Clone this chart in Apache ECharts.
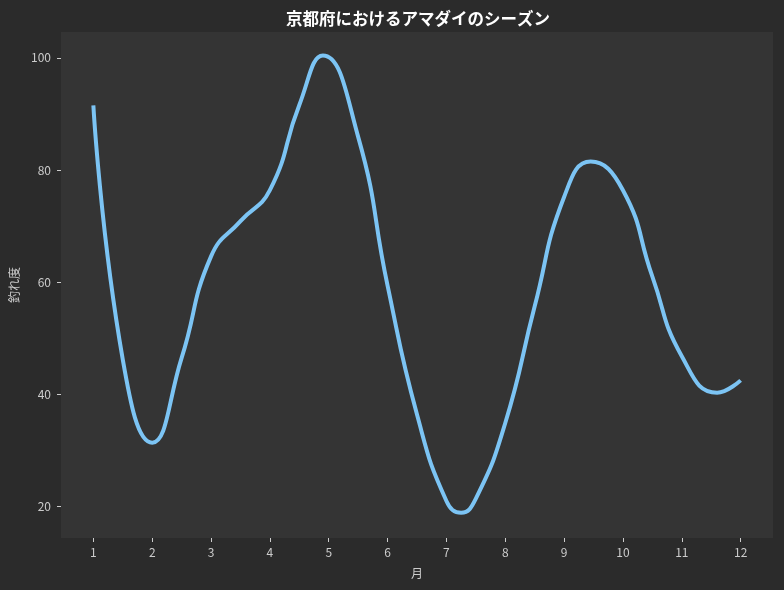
<!DOCTYPE html>
<html><head><meta charset="utf-8">
<script src="https://cdn.jsdelivr.net/npm/echarts@6/dist/echarts.min.js"></script>
<style>html,body{margin:0;padding:0;background:#2b2b2b;}#c{width:784px;height:590px;}</style>
</head><body><div id="c"></div>
<script>
// Curve positions (month) and values
const months = [1, 1.5, 2, 2.5, 3, 3.5, 4, 4.5, 4.9, 5.5, 6, 6.5, 7, 7.25, 7.5, 8, 8.5, 9, 9.45, 10, 10.5, 11, 11.6, 12];
const values = [91.5, 46.2, 31.4, 46.5, 64.6, 70.9, 76.4, 91.6, 100.4, 85.9, 59.4, 36.4, 21.0, 18.9, 21.4, 34.9, 55.7, 75.2, 81.5, 76.4, 61.0, 46.8, 40.3, 42.5];
const yTicks = [20, 40, 60, 80, 100];
const xTicks = [1, 2, 3, 4, 5, 6, 7, 8, 9, 10, 11, 12];
const titleText = '京都府におけるアマダイのシーズン';
const xName = '月';
const yName = '釣れ度';

const font = '"Noto Sans CJK JP", "Noto Sans", sans-serif';
const chart = echarts.init(document.getElementById('c'), null, {renderer: 'canvas'});
chart.setOption({
  backgroundColor: '#2b2b2b',
  animation: false,
  title: {
    text: titleText, left: 413, top: 5, textAlign: 'center',
    textStyle: {color: '#ffffff', fontSize: 16.5, fontWeight: 'bold', fontFamily: font}
  },
  grid: {left: 61, right: 11, top: 32, bottom: 52, show: true, backgroundColor: '#343434', borderWidth: 0},
  xAxis: {
    type: 'value', min: 0.45, max: 12.55,
    name: xName, nameLocation: 'middle', nameGap: 29,
    nameTextStyle: {color: '#cccccc', fontSize: 12, fontFamily: font},
    axisLine: {show: false},
    axisTick: {show: true, length: 4, lineStyle: {color: '#cccccc'}, customValues: xTicks},
    axisLabel: {color: '#cccccc', fontSize: 12, fontFamily: font, margin: 8, customValues: xTicks},
    splitLine: {show: false}
  },
  yAxis: {
    type: 'value', min: 14.4, max: 104.6,
    name: yName, nameLocation: 'middle', nameRotate: 90, nameGap: 39,
    nameTextStyle: {color: '#cccccc', fontSize: 12, fontFamily: font},
    axisLine: {show: false},
    axisTick: {show: true, length: 4, lineStyle: {color: '#cccccc'}, customValues: yTicks},
    axisLabel: {color: '#cccccc', fontSize: 12, fontFamily: font, margin: 10, customValues: yTicks},
    splitLine: {show: false}
  },
  series: [{
    type: 'line', smooth: 0.5, showSymbol: false,
    data: months.map((m, i) => [m, values[i]]),
    lineStyle: {color: '#7cc4f4', width: 4}
  }]
});
</script></body></html>
